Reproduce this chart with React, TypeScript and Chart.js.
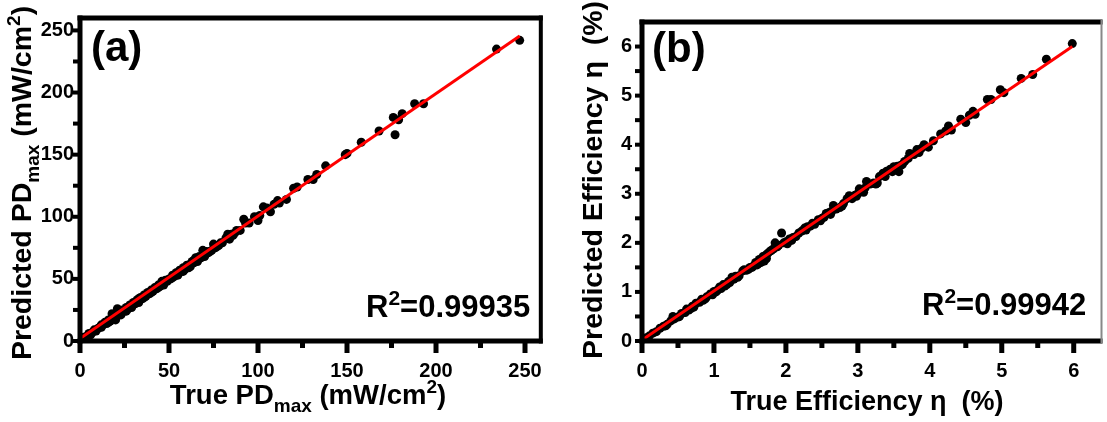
import React, { useEffect, useRef } from "react";
import { Chart, registerables } from "chart.js";

Chart.register(...registerables);

const FONT = '"Liberation Sans", Arial, Helvetica, sans-serif';

// ---------- Panel (a): PDmax ----------
const aTrue = [2, 4, 5, 7, 8, 10, 11, 12, 13, 14, 15, 16, 17, 18, 18, 19, 20, 20, 21, 22, 23, 24, 25, 26, 27, 28, 29, 30, 31, 32, 33, 34, 35, 36, 37, 38, 39, 40, 41, 42, 43, 44, 45, 46, 47, 48, 49, 50, 51, 52, 53, 54, 55, 56, 57, 58, 59, 60, 61, 62, 63, 64, 65, 66, 67, 68, 69, 70, 71, 72, 74, 75, 76, 78, 79, 80, 82, 83, 85, 87, 88, 92, 93, 95, 98, 100, 101, 103, 105, 107, 109, 111, 112, 116, 120, 122, 128, 131, 133, 138, 149, 150, 158, 168, 176, 177, 179, 181, 188, 193, 234, 247,
  3, 6, 9, 12, 16, 23, 26, 29, 33, 36, 40, 44, 47, 52, 55, 58, 62, 64, 66, 70, 73, 77, 84, 86, 90];
const aPred = [3, 4, 6, 7, 9, 10, 11, 13, 13, 15, 14, 17, 16, 19, 22, 18, 17, 21, 26, 21, 23, 25, 24, 27, 26, 29, 28, 31, 30, 33, 31, 35, 34, 37, 36, 39, 38, 41, 40, 43, 42, 45, 44, 48, 46, 49, 48, 50, 50, 53, 52, 55, 54, 57, 56, 59, 58, 61, 59, 62, 64, 63, 67, 65, 68, 67, 73, 69, 72, 71, 73, 78, 75, 77, 79, 79, 83, 86, 86, 87, 89, 98, 95, 95, 100, 97, 101, 108, 107, 104, 110, 113, 111, 114, 123, 124, 130, 130, 134, 141, 150, 151, 160, 169, 180, 166, 178, 183, 191, 191, 235, 242,
  2, 5, 8, 11, 15, 21, 24, 27, 34, 35, 39, 43, 45, 51, 53, 56, 60, 65, 64, 68, 72, 76, 82, 85, 89];
const aFitX = [0, 247];
const aFitY = [2, 245.5];
const aLabels = [0, 50, 100, 150, 200, 250];
const aTicks = [0, 25, 50, 75, 100, 125, 150, 175, 200, 225, 250];

// ---------- Panel (b): Efficiency ----------
const bTrue = [0.05, 0.1, 0.15, 0.2, 0.25, 0.3, 0.35, 0.4, 0.43, 0.45, 0.5, 0.55, 0.6, 0.62, 0.65, 0.7, 0.72, 0.75, 0.8, 0.83, 0.85, 0.9, 0.95, 0.98, 1.0, 1.05, 1.08, 1.1, 1.13, 1.15, 1.2, 1.22, 1.25, 1.28, 1.3, 1.35, 1.4, 1.42, 1.45, 1.5, 1.55, 1.58, 1.6, 1.63, 1.65, 1.68, 1.7, 1.72, 1.75, 1.78, 1.8, 1.83, 1.85, 1.88, 1.9, 1.94, 1.97, 2.0, 2.02, 2.05, 2.1, 2.14, 2.18, 2.22, 2.26, 2.3, 2.34, 2.37, 2.4, 2.45, 2.5, 2.53, 2.56, 2.6, 2.64, 2.66, 2.7, 2.75, 2.8, 2.85, 2.88, 2.92, 2.96, 3.0, 3.02, 3.05, 3.1, 3.12, 3.17, 3.22, 3.27, 3.3, 3.35, 3.4, 3.45, 3.5, 3.55, 3.57, 3.6, 3.65, 3.7, 3.72, 3.78, 3.82, 3.88, 3.92, 3.98, 4.05, 4.15, 4.22, 4.26, 4.3, 4.43, 4.5, 4.55, 4.6, 4.63, 4.8, 4.85, 4.98, 5.03, 5.27, 5.43, 5.62, 5.98,
  0.08, 0.33, 0.52, 0.68, 0.88, 1.03, 1.18, 1.33, 1.48, 1.53, 1.62, 1.67, 1.73, 2.08, 2.28, 2.48, 2.62, 2.78, 2.98, 3.08, 3.25, 3.38, 3.48, 3.62, 3.85];
const bPred = [0.06, 0.1, 0.16, 0.19, 0.26, 0.3, 0.34, 0.41, 0.5, 0.45, 0.49, 0.56, 0.58, 0.65, 0.63, 0.71, 0.69, 0.77, 0.79, 0.85, 0.83, 0.9, 0.96, 0.94, 1.01, 1.04, 1.1, 1.07, 1.15, 1.12, 1.21, 1.19, 1.3, 1.26, 1.32, 1.33, 1.43, 1.45, 1.44, 1.5, 1.53, 1.6, 1.55, 1.66, 1.6, 1.72, 1.63, 1.75, 1.79, 1.83, 1.85, 1.88, 2.0, 1.92, 1.95, 2.2, 2.0, 2.02, 1.98, 2.08, 2.11, 2.13, 2.2, 2.24, 2.3, 2.33, 2.34, 2.4, 2.38, 2.47, 2.5, 2.52, 2.6, 2.62, 2.65, 2.76, 2.69, 2.72, 2.8, 2.9, 2.96, 2.9, 2.97, 3.0, 3.1, 3.05, 3.12, 3.25, 3.2, 3.22, 3.22, 3.35, 3.42, 3.46, 3.5, 3.55, 3.56, 3.45, 3.58, 3.66, 3.72, 3.82, 3.8, 3.9, 3.92, 4.0, 3.95, 4.08, 4.22, 4.28, 4.38, 4.3, 4.52, 4.45, 4.6, 4.68, 4.62, 4.92, 4.92, 5.12, 5.06, 5.35, 5.43, 5.74, 6.06,
  0.07, 0.31, 0.5, 0.66, 0.86, 1.0, 1.15, 1.3, 1.46, 1.5, 1.58, 1.62, 1.68, 2.05, 2.26, 2.45, 2.58, 2.75, 2.95, 3.03, 3.2, 3.35, 3.45, 3.6, 3.84];
const bFitX = [0, 5.98];
const bFitY = [0.02, 6.0];
const bLabels = [0, 1, 2, 3, 4, 5, 6];
const bTicks = [0, 0.5, 1, 1.5, 2, 2.5, 3, 3.5, 4, 4.5, 5, 5.5, 6];

type Seg = { t: string; k: "n" | "sub" | "sup" };

function drawRich(
  ctx: CanvasRenderingContext2D,
  segs: Seg[],
  size: number,
  x: number,
  y: number,
  align: "left" | "center",
  rotate: boolean
) {
  ctx.save();
  const fN = `bold ${size}px ${FONT}`;
  const fS = `bold ${Math.round(size * 0.68)}px ${FONT}`;
  let w = 0;
  const widths: number[] = [];
  for (const s of segs) {
    ctx.font = s.k === "n" ? fN : fS;
    const m = ctx.measureText(s.t).width;
    widths.push(m);
    w += m;
  }
  ctx.translate(x, y);
  if (rotate) ctx.rotate(-Math.PI / 2);
  let cx = align === "center" ? -w / 2 : 0;
  ctx.textBaseline = "alphabetic";
  ctx.textAlign = "left";
  ctx.fillStyle = "#000";
  segs.forEach((s, i) => {
    ctx.font = s.k === "n" ? fN : fS;
    const dy = s.k === "sub" ? size * 0.28 : s.k === "sup" ? -size * 0.4 : 0;
    ctx.fillText(s.t, cx, dy);
    cx += widths[i];
  });
  ctx.restore();
}

const isStep = (v: number, step: number) => Math.abs(v / step - Math.round(v / step)) < 1e-6;

const decor = {
  id: "decor",
  afterDraw(chart: any, _args: any, o: any) {
    const ctx: CanvasRenderingContext2D = chart.ctx;
    const { left, right, top, bottom } = chart.chartArea;
    const xs = chart.scales.x;
    const ys = chart.scales.y;
    ctx.save();
    ctx.fillStyle = "#000";
    for (const t of xs.ticks) {
      const v = t.value;
      const px = xs.getPixelForValue(v);
      const major = isStep(v, o.xMajor);
      ctx.fillRect(px - 2.5, bottom, 5, major ? 12 : 7);
    }
    for (const t of ys.ticks) {
      const py = ys.getPixelForValue(t.value);
      ctx.fillRect(left - 7, py - 2, 7, 4);
    }
    // frame
    ctx.fillRect(left - 2.5, top - 2.5, right - left + 2.5, 5);
    ctx.fillRect(left - 2.5, top - 2.5, 5, bottom - top + 5);
    ctx.fillRect(left - 2.5, bottom - 2.5, right - left + 2.5, 5);
    ctx.fillStyle = o.rightColor;
    ctx.fillRect(right - o.rightWidth, top - 2.5, o.rightWidth, bottom - top + 5);
    ctx.restore();

    // panel label
    ctx.save();
    ctx.fillStyle = "#000";
    ctx.font = `bold ${o.panelSize}px ${FONT}`;
    ctx.textBaseline = "alphabetic";
    ctx.textAlign = "left";
    ctx.fillText(o.panel, o.panelX, o.panelY);
    ctx.restore();

    drawRich(ctx, o.r2, o.r2Size, o.r2X, o.r2Y, "left", false);
    drawRich(ctx, o.xTitle, o.xTitleSize, o.xTitleX, o.xTitleY, "center", false);
    drawRich(ctx, o.yTitle, o.yTitleSize, o.yTitleX, o.yTitleY, "center", true);
  },
};

function tickFont() {
  return { size: 20, weight: "bold" as const, family: FONT };
}

function makeConfig(p: {
  xs: number[];
  ys: number[];
  fx: number[];
  fy: number[];
  xMax: number;
  yMax: number;
  ticks: number[];
  labels: number[];
  yWidth: number;
  padRight: number;
  yPad: number;
  deco: any;
}) {
  const pts = p.xs.map((x, i) => ({ x, y: p.ys[i] }));
  const fit = p.fx.map((x, i) => ({ x, y: p.fy[i] }));
  const cb = (v: any) => (p.labels.some((l) => Math.abs(l - Number(v)) < 1e-6) ? String(Number(v)) : "");
  const setTicks = (s: any) => {
    s.ticks = p.ticks.map((v) => ({ value: v }));
  };
  return {
    type: "scatter" as const,
    data: {
      datasets: [
        {
          type: "line" as const,
          data: fit,
          borderColor: "#ff0000",
          borderWidth: 3,
          pointRadius: 0,
          fill: false,
          order: 0,
        },
        {
          type: "scatter" as const,
          data: pts,
          backgroundColor: "#000",
          borderColor: "#000",
          pointRadius: 4.5,
          borderWidth: 0,
          order: 1,
        },
      ],
    },
    options: {
      animation: false as const,
      responsive: false,
      maintainAspectRatio: false,
      layout: { padding: { left: 0, right: p.padRight, top: 13, bottom: 0 } },
      plugins: {
        legend: { display: false },
        tooltip: { enabled: false },
        decor: p.deco,
      },
      scales: {
        x: {
          type: "linear" as const,
          min: 0,
          max: p.xMax,
          grid: { display: false, drawTicks: false },
          border: { display: false },
          afterBuildTicks: setTicks,
          ticks: {
            autoSkip: false,
            maxRotation: 0,
            padding: 18,
            color: "#000",
            font: tickFont(),
            callback: cb,
          },
          afterFit: (s: any) => {
            s.height = 81;
          },
        },
        y: {
          type: "linear" as const,
          min: 0,
          max: p.yMax,
          grid: { display: false, drawTicks: false },
          border: { display: false },
          afterBuildTicks: setTicks,
          ticks: {
            autoSkip: false,
            padding: p.yPad,
            color: "#000",
            font: tickFont(),
            callback: cb,
          },
          afterFit: (s: any) => {
            s.width = p.yWidth;
          },
        },
      },
    },
    plugins: [decor],
  };
}

export default function App() {
  const refA = useRef<HTMLCanvasElement>(null);
  const refB = useRef<HTMLCanvasElement>(null);

  useEffect(() => {
    const ca = new Chart(
      refA.current as HTMLCanvasElement,
      makeConfig({
        xs: aTrue,
        ys: aPred,
        fx: aFitX,
        fy: aFitY,
        xMax: 260,
        yMax: 260,
        ticks: aTicks,
        labels: aLabels,
        yWidth: 80,
        padRight: 8,
        yPad: 6,
        deco: {
          xMajor: 50,
          rightColor: "#000",
          rightWidth: 4,
          panel: "(a)",
          panelSize: 42,
          panelX: 91,
          panelY: 61,
          r2: [
            { t: "R", k: "n" },
            { t: "2", k: "sup" },
            { t: "=0.99935", k: "n" },
          ],
          r2Size: 31,
          r2X: 366,
          r2Y: 317,
          xTitle: [
            { t: "True PD", k: "n" },
            { t: "max", k: "sub" },
            { t: " (mW/cm", k: "n" },
            { t: "2", k: "sup" },
            { t: ")", k: "n" },
          ],
          xTitleSize: 27.5,
          xTitleX: 308,
          xTitleY: 404,
          yTitle: [
            { t: "Predicted PD", k: "n" },
            { t: "max", k: "sub" },
            { t: " (mW/cm", k: "n" },
            { t: "2", k: "sup" },
            { t: ")", k: "n" },
          ],
          yTitleSize: 28.5,
          yTitleX: 31,
          yTitleY: 183,
        },
      }) as any
    );
    const cbChart = new Chart(
      refB.current as HTMLCanvasElement,
      makeConfig({
        xs: bTrue,
        ys: bPred,
        fx: bFitX,
        fy: bFitY,
        xMax: 6.4,
        yMax: 6.5,
        ticks: bTicks,
        labels: bLabels,
        yWidth: 82,
        padRight: 1,
        yPad: 10,
        deco: {
          xMajor: 1,
          rightColor: "#888",
          rightWidth: 2,
          panel: "(b)",
          panelSize: 42,
          panelX: 92,
          panelY: 62,
          r2: [
            { t: "R", k: "n" },
            { t: "2", k: "sup" },
            { t: "=0.99942", k: "n" },
          ],
          r2Size: 31,
          r2X: 362,
          r2Y: 315,
          xTitle: [{ t: "True Efficiency \u03B7  (%)", k: "n" }],
          xTitleSize: 27,
          xTitleX: 307,
          xTitleY: 410,
          yTitle: [{ t: "Predicted Efficiency \u03B7  (%)", k: "n" }],
          yTitleSize: 28.5,
          yTitleX: 42,
          yTitleY: 180,
        },
      }) as any
    );
    return () => {
      ca.destroy();
      cbChart.destroy();
    };
  }, []);

  return (
    <div style={{ position: "fixed", left: 0, top: 0, width: 1107, height: 422, background: "#fff" }}>
      <canvas ref={refA} width={560} height={422} style={{ position: "absolute", left: 0, top: 0, width: 560, height: 422 }} />
      <canvas ref={refB} width={547} height={422} style={{ position: "absolute", left: 560, top: 0, width: 547, height: 422 }} />
    </div>
  );
}
